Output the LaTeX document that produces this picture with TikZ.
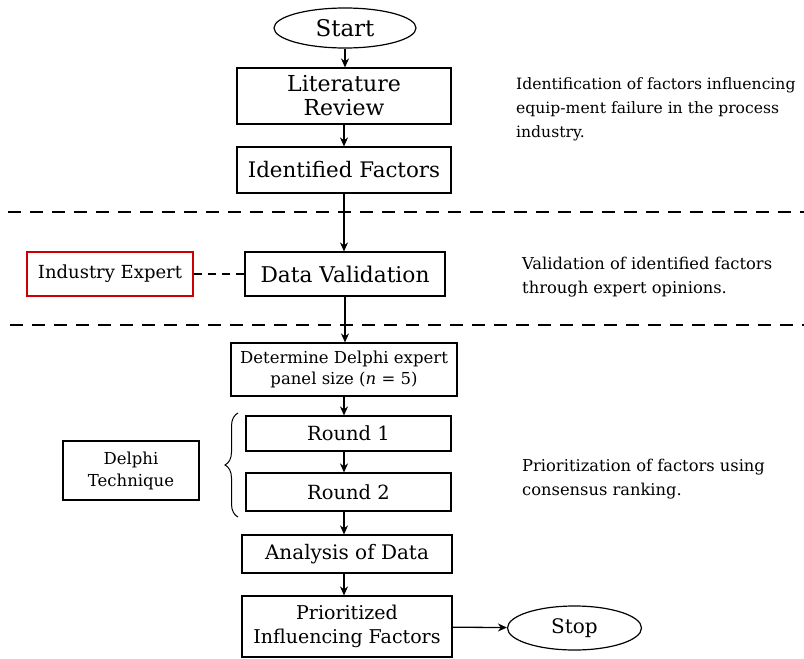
\documentclass[tikz,border=0pt]{standalone}
\usepackage{fontspec}
\setmainfont{DejaVu Serif}
\usetikzlibrary{arrows.meta,decorations.pathreplacing,shapes.geometric}
\begin{document}
\begin{tikzpicture}[x=1pt,y=-1pt,
  box/.style={draw, line width=1.2pt, inner sep=0pt, align=center},
  term/.style={draw, ellipse, line width=1.2pt, inner sep=0pt},
  note/.style={anchor=west, align=left, inner sep=0pt, font=\fontsize{16.3}{24}\selectfont},
  arr/.style={line width=1.3pt, -{Stealth[length=9pt,width=8pt]}},
  sep/.style={line width=1.2pt, dash pattern=on 13pt off 9pt},
]
\useasboundingbox (0,0) rectangle (804,659);
\node[term, minimum width=142pt, minimum height=40pt, font=\fontsize{23}{26}\selectfont] (start) at (345,28) {Start};
\node[box, minimum width=214pt, minimum height=56pt, font=\fontsize{22}{24}\selectfont] (lit) at (344,96) {Literature\\Review};
\node[box, minimum width=214pt, minimum height=46pt, font=\fontsize{21.4}{24}\selectfont] (idf) at (344,170) {Identified Factors};
\node[box, minimum width=200pt, minimum height=44pt, font=\fontsize{21.7}{24}\selectfont] (dv) at (345,274) {Data Validation};
\node[box, draw=red!80!black, minimum width=166pt, minimum height=44pt, font=\fontsize{18}{21}\selectfont] (ie) at (110,274) {Industry Expert};
\node[box, minimum width=226pt, minimum height=53pt, font=\fontsize{16.5}{21}\selectfont] (det) at (344,369.5) {Determine Delphi expert\\panel size (\textit{n} = 5)};
\node[box, minimum width=205pt, minimum height=35pt, font=\fontsize{19.5}{22}\selectfont] (r1) at (348.5,433.5) {Round 1};
\node[box, minimum width=205pt, minimum height=38pt, font=\fontsize{19.5}{22}\selectfont] (r2) at (348.5,492) {Round 2};
\node[box, minimum width=210pt, minimum height=38pt, font=\fontsize{20}{22}\selectfont] (ana) at (347,554) {Analysis of Data};
\node[box, minimum width=210pt, minimum height=61pt, font=\fontsize{19}{24}\selectfont] (pri) at (347,626.5) {Prioritized\\Influencing Factors};
\node[term, minimum width=134pt, minimum height=44pt, font=\fontsize{20}{22}\selectfont] (stop) at (574.5,628) {Stop};
\node[box, minimum width=136pt, minimum height=59pt, font=\fontsize{16.5}{22}\selectfont] (dt) at (131,470.5) {Delphi\\Technique};

\node[note, font=\fontsize{15.6}{24}\selectfont] (n1) at (516,109) {Identification of factors influencing\\equip-ment failure in the process\\industry.};
\node[note] (n2) at (522,277) {Validation of identified factors\\through expert opinions.};
\node[note] (n3) at (522,479) {Prioritization of factors using\\consensus ranking.};

\coordinate (l1a) at (8,212);
\coordinate (l1b) at (804,212);
\coordinate (l2a) at (10,325);
\coordinate (l2b) at (804,325);
\draw[sep] (l1a) -- (l1b);
\draw[sep] (l2a) -- (l2b);

\draw[arr] (start) -- (start|-lit.north);
\draw[arr] (lit) -- (lit|-idf.north);
\draw[arr] (idf) -- (idf|-dv.north);
\draw[arr] (dv) -- (dv|-det.north);
\draw[arr] (det.south) -- (det.south|-r1.north);
\draw[arr] (det.south|-r1.south) -- (det.south|-r2.north);
\draw[arr] (det.south|-r2.south) -- (det.south|-ana.north);
\draw[arr] (det.south|-ana.south) -- (det.south|-pri.north);
\draw[arr] (pri) -- (stop);
\draw[line width=1.2pt, dash pattern=on 8pt off 6pt] (ie) -- (dv);

\coordinate (bb) at (238,517);
\coordinate (bt) at (238,413);
\draw[line width=1pt, decorate, decoration={brace, amplitude=13pt}] (bb) -- (bt);
\end{tikzpicture}
\end{document}
